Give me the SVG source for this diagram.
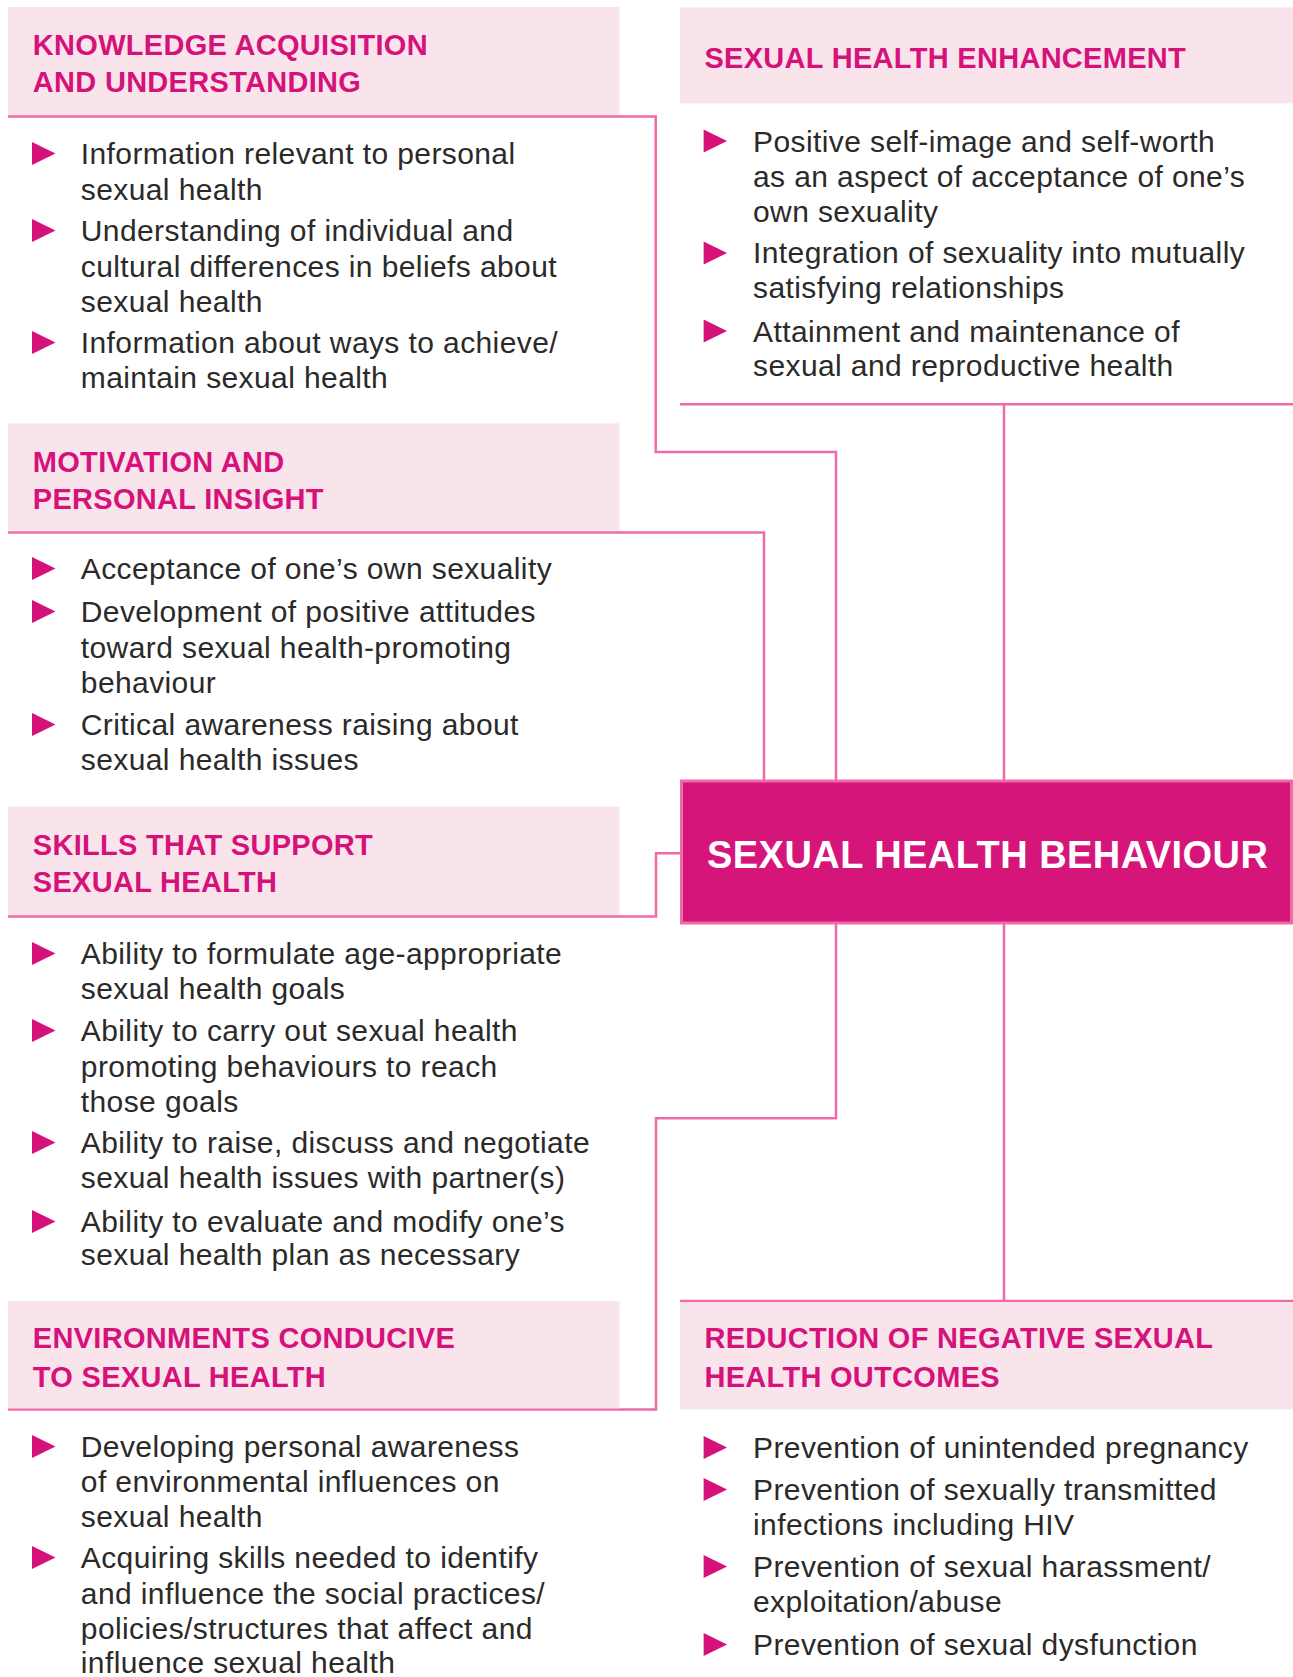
<svg xmlns="http://www.w3.org/2000/svg" xmlns:xlink="http://www.w3.org/1999/xlink" width="1293" height="1677" viewBox="0 0 1293 1677">
<style>
.hdr{fill:#FAE4EC}
.ht{font-family:"Liberation Sans",Arial,sans-serif;font-weight:bold;font-size:29px;fill:#D5127A;letter-spacing:0.3px}
.bt{font-family:"Liberation Sans",Arial,sans-serif;font-size:30px;fill:#2B2A29;letter-spacing:0.4px}
.tri{fill:#D5127A}
.con{fill:none;stroke:#F06AA8;stroke-width:2.5}
.ctr{fill:#D6157B;stroke:#F06AA8;stroke-width:3}
.ctt{font-family:"Liberation Sans",Arial,sans-serif;font-weight:bold;font-size:38px;fill:#FFFFFF;letter-spacing:0.45px}
</style>
<defs>
<path id="tri" d="M0,0 L23.5,11.5 L0,23 Z"/>
</defs>
<rect width="1293" height="1677" fill="#FFFFFF"/>

<g id="connectors">
<path class="con" d="M8,116.5 H655.7 V452 H836 V780"/>
<path class="con" d="M8,532.5 H764 V780"/>
<path class="con" d="M8,916.5 H656 V853.3 H681"/>
<path class="con" d="M8,1409.5 H656 V1118.3 H836 V924"/>
<path class="con" d="M680,404.3 H1293 M1004,404.3 V780"/>
<path class="con" d="M680,1301 H1293 M1004,924 V1301"/>
</g>

<g id="knowledge">
<rect class="hdr" x="8" y="7" width="611.5" height="108"/>
<text class="ht" x="32.8" y="55">KNOWLEDGE ACQUISITION</text>
<text class="ht" x="32.8" y="92.3">AND UNDERSTANDING</text>
<use xlink:href="#tri" class="tri" x="32" y="142"/>
<text class="bt" x="80.8" y="164">Information relevant to personal</text>
<text class="bt" x="80.8" y="200">sexual health</text>
<use xlink:href="#tri" class="tri" x="32" y="219"/>
<text class="bt" x="80.8" y="241">Understanding of individual and</text>
<text class="bt" x="80.8" y="277">cultural differences in beliefs about</text>
<text class="bt" x="80.8" y="312">sexual health</text>
<use xlink:href="#tri" class="tri" x="32" y="331"/>
<text class="bt" x="80.8" y="353">Information about ways to achieve/</text>
<text class="bt" x="80.8" y="388">maintain sexual health</text>
</g>

<g id="motivation">
<rect class="hdr" x="8" y="423.3" width="611.5" height="107.4"/>
<text class="ht" x="32.8" y="471.7">MOTIVATION AND</text>
<text class="ht" x="32.8" y="509">PERSONAL INSIGHT</text>
<use xlink:href="#tri" class="tri" x="32" y="557"/>
<text class="bt" x="80.8" y="579">Acceptance of one’s own sexuality</text>
<use xlink:href="#tri" class="tri" x="32" y="600"/>
<text class="bt" x="80.8" y="622.3">Development of positive attitudes</text>
<text class="bt" x="80.8" y="658.3">toward sexual health-promoting</text>
<text class="bt" x="80.8" y="692.7">behaviour</text>
<use xlink:href="#tri" class="tri" x="32" y="713"/>
<text class="bt" x="80.8" y="735">Critical awareness raising about</text>
<text class="bt" x="80.8" y="770">sexual health issues</text>
</g>

<g id="skills">
<rect class="hdr" x="8" y="806.7" width="611.5" height="108.3"/>
<text class="ht" x="32.8" y="855">SKILLS THAT SUPPORT</text>
<text class="ht" x="32.8" y="892.3">SEXUAL HEALTH</text>
<use xlink:href="#tri" class="tri" x="32" y="942"/>
<text class="bt" x="80.8" y="964">Ability to formulate age-appropriate</text>
<text class="bt" x="80.8" y="999.3">sexual health goals</text>
<use xlink:href="#tri" class="tri" x="32" y="1019"/>
<text class="bt" x="80.8" y="1040.7">Ability to carry out sexual health</text>
<text class="bt" x="80.8" y="1076.7">promoting behaviours to reach</text>
<text class="bt" x="80.8" y="1111.7">those goals</text>
<use xlink:href="#tri" class="tri" x="32" y="1131"/>
<text class="bt" x="80.8" y="1152.7">Ability to raise, discuss and negotiate</text>
<text class="bt" x="80.8" y="1188.3">sexual health issues with partner(s)</text>
<use xlink:href="#tri" class="tri" x="32" y="1210"/>
<text class="bt" x="80.8" y="1231.7">Ability to evaluate and modify one’s</text>
<text class="bt" x="80.8" y="1265">sexual health plan as necessary</text>
</g>

<g id="environments">
<rect class="hdr" x="8" y="1301" width="611.5" height="107.3"/>
<text class="ht" x="32.8" y="1348.3">ENVIRONMENTS CONDUCIVE</text>
<text class="ht" x="32.8" y="1386.7">TO SEXUAL HEALTH</text>
<use xlink:href="#tri" class="tri" x="32" y="1435"/>
<text class="bt" x="80.8" y="1456.7">Developing personal awareness</text>
<text class="bt" x="80.8" y="1492.3">of environmental influences on</text>
<text class="bt" x="80.8" y="1527.3">sexual health</text>
<use xlink:href="#tri" class="tri" x="32" y="1546"/>
<text class="bt" x="80.8" y="1568.3">Acquiring skills needed to identify</text>
<text class="bt" x="80.8" y="1604">and influence the social practices/</text>
<text class="bt" x="80.8" y="1639.3">policies/structures that affect and</text>
<text class="bt" x="80.8" y="1673.3">influence sexual health</text>
</g>

<g id="enhancement">
<rect class="hdr" x="680" y="7.3" width="613" height="96"/>
<text class="ht" x="704.4" y="68.3">SEXUAL HEALTH ENHANCEMENT</text>
<use xlink:href="#tri" class="tri" x="703.6" y="129.5"/>
<text class="bt" x="753" y="151.7">Positive self-image and self-worth</text>
<text class="bt" x="753" y="186.7">as an aspect of acceptance of one’s</text>
<text class="bt" x="753" y="221.7">own sexuality</text>
<use xlink:href="#tri" class="tri" x="703.6" y="241.5"/>
<text class="bt" x="753" y="263.3">Integration of sexuality into mutually</text>
<text class="bt" x="753" y="298.3">satisfying relationships</text>
<use xlink:href="#tri" class="tri" x="703.6" y="319.5"/>
<text class="bt" x="753" y="341.7">Attainment and maintenance of</text>
<text class="bt" x="753" y="376">sexual and reproductive health</text>
</g>

<g id="behaviour">
<rect class="ctr" x="681.5" y="781" width="610" height="142"/>
<text class="ctt" x="707" y="868.3">SEXUAL HEALTH BEHAVIOUR</text>
</g>

<g id="reduction">
<rect class="hdr" x="680" y="1302.3" width="613" height="107"/>
<text class="ht" x="704.4" y="1348.3">REDUCTION OF NEGATIVE SEXUAL</text>
<text class="ht" x="704.4" y="1386.7">HEALTH OUTCOMES</text>
<use xlink:href="#tri" class="tri" x="703.6" y="1436"/>
<text class="bt" x="753" y="1458.3">Prevention of unintended pregnancy</text>
<use xlink:href="#tri" class="tri" x="703.6" y="1478"/>
<text class="bt" x="753" y="1500">Prevention of sexually transmitted</text>
<text class="bt" x="753" y="1535">infections including HIV</text>
<use xlink:href="#tri" class="tri" x="703.6" y="1555"/>
<text class="bt" x="753" y="1576.7">Prevention of sexual harassment/</text>
<text class="bt" x="753" y="1611.7">exploitation/abuse</text>
<use xlink:href="#tri" class="tri" x="703.6" y="1633"/>
<text class="bt" x="753" y="1655">Prevention of sexual dysfunction</text>
</g>
</svg>
